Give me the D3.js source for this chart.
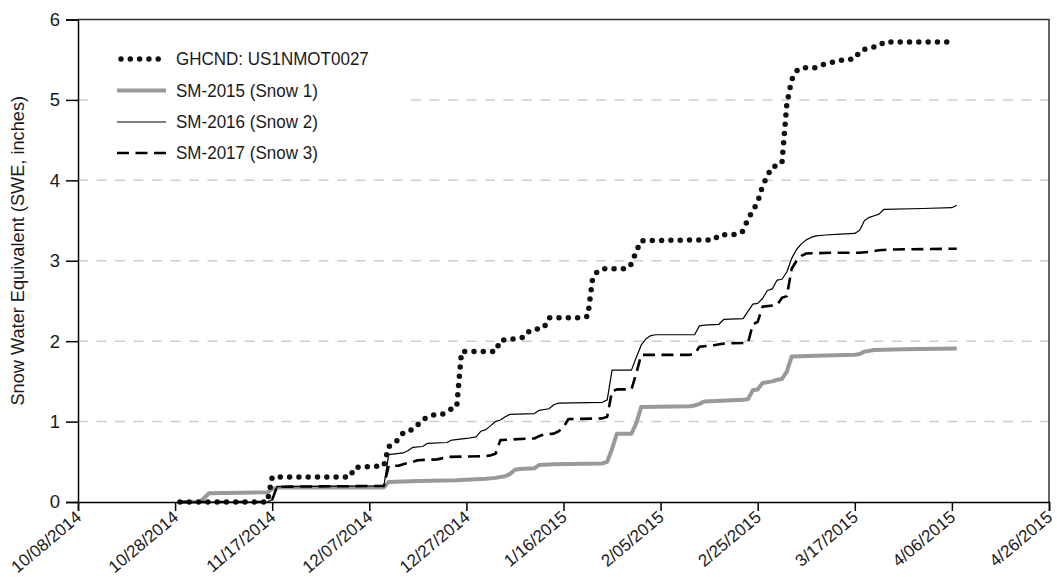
<!DOCTYPE html>
<html>
<head>
<meta charset="utf-8">
<script src="https://cdn.jsdelivr.net/npm/d3@7"></script>
<style>
  body { margin: 0; background: #fff; }
  svg { display: block; }
  text { font-family: "Liberation Sans", Arial, sans-serif; fill: #1a1a1a; }
</style>
</head>
<body>
<svg id="chart" width="1057" height="577"></svg>
<script>
// Cumulative snow water equivalent, winter 2014-2015

const xTickLabels = ["10/08/2014", "10/28/2014", "11/17/2014", "12/07/2014", "12/27/2014",
  "1/16/2015", "2/05/2015", "2/25/2015", "3/17/2015", "4/06/2015", "4/26/2015"];
const yTicks = [0, 1, 2, 3, 4, 5, 6];
const gridValues = [1, 2, 3, 4, 5];
const yTitle = "Snow Water Equivalent (SWE, inches)";
const seriesNames = ["GHCND: US1NMOT0027", "SM-2015 (Snow 1)", "SM-2016 (Snow 2)", "SM-2017 (Snow 3)"];

// GHCND gauge, cumulative SWE (inches)
const ghcnd = [
  ["2014-10-29", 0], ["2014-11-16", 0], ["2014-11-17", 0.31], ["2014-12-03", 0.31], ["2014-12-04", 0.43],
  ["2014-12-10", 0.45], ["2014-12-11", 0.69], ["2014-12-12", 0.72], ["2014-12-13", 0.78], ["2014-12-14", 0.86],
  ["2014-12-15", 0.89], ["2014-12-16", 0.90], ["2014-12-17", 0.96], ["2014-12-18", 1.02], ["2014-12-19", 1.06],
  ["2014-12-20", 1.08], ["2014-12-22", 1.09], ["2014-12-23", 1.13], ["2014-12-24", 1.16], ["2014-12-25", 1.18],
  ["2014-12-26", 1.87], ["2015-01-02", 1.87], ["2015-01-03", 2.01], ["2015-01-06", 2.03], ["2015-01-08", 2.05],
  ["2015-01-09", 2.13], ["2015-01-10", 2.15], ["2015-01-11", 2.15], ["2015-01-12", 2.17], ["2015-01-13", 2.29],
  ["2015-01-20", 2.29], ["2015-01-21", 2.31], ["2015-01-22", 2.78], ["2015-01-23", 2.87], ["2015-01-24", 2.90],
  ["2015-01-29", 2.90], ["2015-01-30", 2.96], ["2015-01-31", 3.12], ["2015-02-01", 3.25], ["2015-02-16", 3.26],
  ["2015-02-17", 3.32], ["2015-02-21", 3.33], ["2015-02-22", 3.37], ["2015-02-23", 3.52], ["2015-02-24", 3.62],
  ["2015-02-25", 3.73], ["2015-02-26", 3.93], ["2015-02-27", 4.06], ["2015-02-28", 4.17], ["2015-03-01", 4.18],
  ["2015-03-02", 4.22], ["2015-03-03", 4.95], ["2015-03-04", 5.25], ["2015-03-05", 5.36], ["2015-03-06", 5.40],
  ["2015-03-09", 5.40], ["2015-03-10", 5.43], ["2015-03-11", 5.45], ["2015-03-12", 5.46], ["2015-03-13", 5.48],
  ["2015-03-14", 5.49], ["2015-03-15", 5.50], ["2015-03-17", 5.51], ["2015-03-18", 5.60], ["2015-03-19", 5.63],
  ["2015-03-20", 5.64], ["2015-03-21", 5.66], ["2015-03-22", 5.67], ["2015-03-23", 5.72], ["2015-04-05", 5.72]
];

// SM-2015 (Snow 1)
const snow1 = [
  ["2014-10-29", 0], ["2014-11-02", 0], ["2014-11-03", 0.05], ["2014-11-04", 0.11], ["2014-11-16", 0.12],
  ["2014-11-17", 0.16], ["2014-11-18", 0.18], ["2014-12-10", 0.18], ["2014-12-11", 0.25], ["2014-12-17", 0.26],
  ["2014-12-25", 0.27], ["2014-12-31", 0.29], ["2015-01-02", 0.30], ["2015-01-04", 0.32], ["2015-01-05", 0.35],
  ["2015-01-06", 0.40], ["2015-01-07", 0.41], ["2015-01-10", 0.42], ["2015-01-11", 0.46], ["2015-01-14", 0.47],
  ["2015-01-24", 0.48], ["2015-01-25", 0.50], ["2015-01-26", 0.66], ["2015-01-27", 0.85], ["2015-01-30", 0.85],
  ["2015-01-31", 0.98], ["2015-02-01", 1.18], ["2015-02-11", 1.19], ["2015-02-12", 1.20], ["2015-02-13", 1.22],
  ["2015-02-14", 1.25], ["2015-02-22", 1.27], ["2015-02-23", 1.28], ["2015-02-24", 1.39], ["2015-02-25", 1.40],
  ["2015-02-26", 1.48], ["2015-02-28", 1.50], ["2015-03-01", 1.52], ["2015-03-02", 1.53], ["2015-03-03", 1.62],
  ["2015-03-04", 1.81], ["2015-03-09", 1.82], ["2015-03-17", 1.83], ["2015-03-18", 1.84], ["2015-03-19", 1.87],
  ["2015-03-21", 1.89], ["2015-03-27", 1.90], ["2015-04-07", 1.91]
];

// SM-2016 (Snow 2)
const snow2 = [
  ["2014-10-29", 0], ["2014-11-16", 0], ["2014-11-17", 0.03], ["2014-11-18", 0.19], ["2014-12-10", 0.20],
  ["2014-12-11", 0.59], ["2014-12-14", 0.61], ["2014-12-15", 0.64], ["2014-12-16", 0.68], ["2014-12-18", 0.69],
  ["2014-12-19", 0.73], ["2014-12-23", 0.74], ["2014-12-24", 0.77], ["2014-12-27", 0.79], ["2014-12-29", 0.81],
  ["2014-12-30", 0.88], ["2014-12-31", 0.90], ["2015-01-01", 0.95], ["2015-01-02", 1.00], ["2015-01-03", 1.02],
  ["2015-01-04", 1.06], ["2015-01-05", 1.09], ["2015-01-10", 1.10], ["2015-01-11", 1.14], ["2015-01-13", 1.16],
  ["2015-01-14", 1.21], ["2015-01-15", 1.23], ["2015-01-24", 1.24], ["2015-01-25", 1.27], ["2015-01-26", 1.64],
  ["2015-01-30", 1.64], ["2015-01-31", 1.80], ["2015-02-01", 1.95], ["2015-02-02", 2.03], ["2015-02-03", 2.07],
  ["2015-02-04", 2.08], ["2015-02-12", 2.08], ["2015-02-13", 2.19], ["2015-02-14", 2.20], ["2015-02-17", 2.21],
  ["2015-02-18", 2.27], ["2015-02-22", 2.28], ["2015-02-23", 2.37], ["2015-02-24", 2.46], ["2015-02-25", 2.47],
  ["2015-02-26", 2.53], ["2015-02-27", 2.63], ["2015-02-28", 2.65], ["2015-03-01", 2.76], ["2015-03-02", 2.77],
  ["2015-03-03", 2.86], ["2015-03-04", 3.03], ["2015-03-05", 3.14], ["2015-03-06", 3.21], ["2015-03-07", 3.26],
  ["2015-03-08", 3.29], ["2015-03-09", 3.31], ["2015-03-11", 3.32], ["2015-03-14", 3.33], ["2015-03-17", 3.34],
  ["2015-03-18", 3.38], ["2015-03-19", 3.50], ["2015-03-20", 3.54], ["2015-03-21", 3.56], ["2015-03-22", 3.58],
  ["2015-03-23", 3.64], ["2015-03-31", 3.65], ["2015-04-06", 3.66], ["2015-04-07", 3.69]
];

// SM-2017 (Snow 3)
const snow3 = [
  ["2014-10-29", 0], ["2014-11-16", 0], ["2014-11-17", 0.03], ["2014-11-18", 0.19], ["2014-12-10", 0.20],
  ["2014-12-11", 0.45], ["2014-12-13", 0.45], ["2014-12-14", 0.47], ["2014-12-16", 0.50], ["2014-12-17", 0.52],
  ["2014-12-21", 0.53], ["2014-12-23", 0.56], ["2014-12-31", 0.57], ["2015-01-01", 0.58], ["2015-01-02", 0.60],
  ["2015-01-03", 0.77], ["2015-01-09", 0.79], ["2015-01-10", 0.79], ["2015-01-11", 0.82], ["2015-01-12", 0.84],
  ["2015-01-14", 0.85], ["2015-01-15", 0.88], ["2015-01-16", 0.93], ["2015-01-17", 1.03], ["2015-01-24", 1.04],
  ["2015-01-25", 1.06], ["2015-01-26", 1.38], ["2015-01-27", 1.40], ["2015-01-30", 1.40], ["2015-01-31", 1.60],
  ["2015-02-01", 1.83], ["2015-02-11", 1.83], ["2015-02-12", 1.84], ["2015-02-13", 1.93], ["2015-02-16", 1.95],
  ["2015-02-18", 1.97], ["2015-02-23", 1.98], ["2015-02-24", 2.21], ["2015-02-25", 2.24], ["2015-02-26", 2.43],
  ["2015-03-01", 2.45], ["2015-03-02", 2.54], ["2015-03-03", 2.56], ["2015-03-04", 2.90], ["2015-03-05", 3.00],
  ["2015-03-06", 3.06], ["2015-03-07", 3.09], ["2015-03-12", 3.10], ["2015-03-18", 3.10], ["2015-03-20", 3.11],
  ["2015-03-22", 3.13], ["2015-03-24", 3.14], ["2015-04-07", 3.15]
];

const W = 1057, H = 577;
const plot = { left: 78, right: 1049, top: 19.5, bottom: 502 };
const FONT = "'Liberation Sans', Arial, sans-serif";

const parseIso = d3.utcParse("%Y-%m-%d");
const parseTick = d3.utcParse("%m/%d/%Y");
const tickDates = xTickLabels.map(parseTick);

const x = d3.scaleUtc()
  .domain([tickDates[0], tickDates[tickDates.length - 1]])
  .range([plot.left, plot.right]);
const y = d3.scaleLinear().domain([0, 6]).range([plot.bottom, plot.top]);

const svg = d3.select("#chart");

// horizontal dashed gridlines
svg.append("g").selectAll("line").data(gridValues).join("line")
  .attr("x1", plot.left).attr("x2", plot.right)
  .attr("y1", d => y(d)).attr("y2", d => y(d))
  .attr("stroke", "#cdcdcd").attr("stroke-width", 1.5)
  .attr("stroke-dasharray", "10 8.5");

// frame: top and right edges
svg.append("path")
  .attr("d", `M${plot.left},${plot.top}H${plot.right}V${plot.bottom}`)
  .attr("fill", "none").attr("stroke", "#333").attr("stroke-width", 1.5);

// series styles, in drawing order
const styles = {
  ghcnd: { stroke: "#111", width: 5.5, dash: "0 9.3", cap: "round" },
  snow1: { stroke: "#999", width: 4, dash: null, cap: "butt" },
  snow2: { stroke: "#000", width: 1.2, dash: null, cap: "butt" },
  snow3: { stroke: "#000", width: 2.6, dash: "12 6.5", cap: "butt" }
};
const series = [
  { key: "snow1", data: snow1 },
  { key: "snow2", data: snow2 },
  { key: "snow3", data: snow3 },
  { key: "ghcnd", data: ghcnd }
];

const line = d3.line()
  .x(d => x(parseIso(d[0])))
  .y(d => y(d[1]));

const lines = svg.append("g");
series.forEach(s => {
  const st = styles[s.key];
  lines.append("path")
    .datum(s.data)
    .attr("d", line)
    .attr("fill", "none")
    .attr("stroke", st.stroke)
    .attr("stroke-width", st.width)
    .attr("stroke-linecap", st.cap)
    .attr("stroke-linejoin", "round")
    .attr("stroke-dasharray", st.dash);
});

// axes
const yAxis = d3.axisLeft(y).tickValues(yTicks).tickFormat(d3.format("d"))
  .tickSize(12).tickPadding(6);
const gy = svg.append("g").attr("transform", `translate(${plot.left},0)`).call(yAxis);
gy.select(".domain").attr("stroke", "#000").attr("stroke-width", 1.5);
gy.selectAll(".tick line").attr("stroke", "#000").attr("stroke-width", 1.5);
gy.selectAll(".tick text").attr("font-size", 18.5).attr("fill", "#1a1a1a")
  .attr("font-family", FONT);

const xAxis = d3.axisBottom(x).tickValues(tickDates)
  .tickFormat((d, i) => xTickLabels[i]).tickSize(9).tickPadding(4);
const gx = svg.append("g").attr("transform", `translate(0,${plot.bottom})`).call(xAxis);
gx.select(".domain").attr("stroke", "#000").attr("stroke-width", 1.5);
gx.selectAll(".tick line").attr("stroke", "#000").attr("stroke-width", 1.5);
gx.selectAll(".tick text")
  .attr("font-size", 17)
  .attr("fill", "#1a1a1a")
  .attr("font-family", FONT)
  .attr("text-anchor", "end")
  .attr("dy", 0)
  .attr("y", 0)
  .attr("transform", "translate(4,17) rotate(-40)");

// y-axis title
svg.append("text")
  .attr("transform", `translate(24,${(plot.top + plot.bottom) / 2 - 10}) rotate(-90)`)
  .attr("text-anchor", "middle")
  .attr("font-size", 18.2)
  .text(yTitle);

// legend with white backing
const legend = svg.append("g");
legend.append("rect")
  .attr("x", 95).attr("y", 38).attr("width", 310).attr("height", 132)
  .attr("fill", "#fff");
const legendKeys = ["ghcnd", "snow1", "snow2", "snow3"];
const legendY = [59, 90.5, 122, 153];
legendKeys.forEach((k, i) => {
  const st = styles[k];
  const g = legend.append("g").attr("transform", `translate(0,${legendY[i]})`);
  const x0 = k === "ghcnd" ? 121 : 117;
  const x1 = k === "ghcnd" ? 158.4 : 166;
  g.append("line")
    .attr("x1", x0).attr("x2", x1).attr("y1", 0).attr("y2", 0)
    .attr("stroke", st.stroke).attr("stroke-width", st.width)
    .attr("stroke-linecap", st.cap)
    .attr("stroke-dasharray", st.dash);
  g.append("text")
    .attr("transform", "translate(176,0) scale(0.92,1)")
    .attr("dy", "0.35em")
    .attr("font-size", 18.5)
    .text(seriesNames[i]);
});
</script>
</body>
</html>
